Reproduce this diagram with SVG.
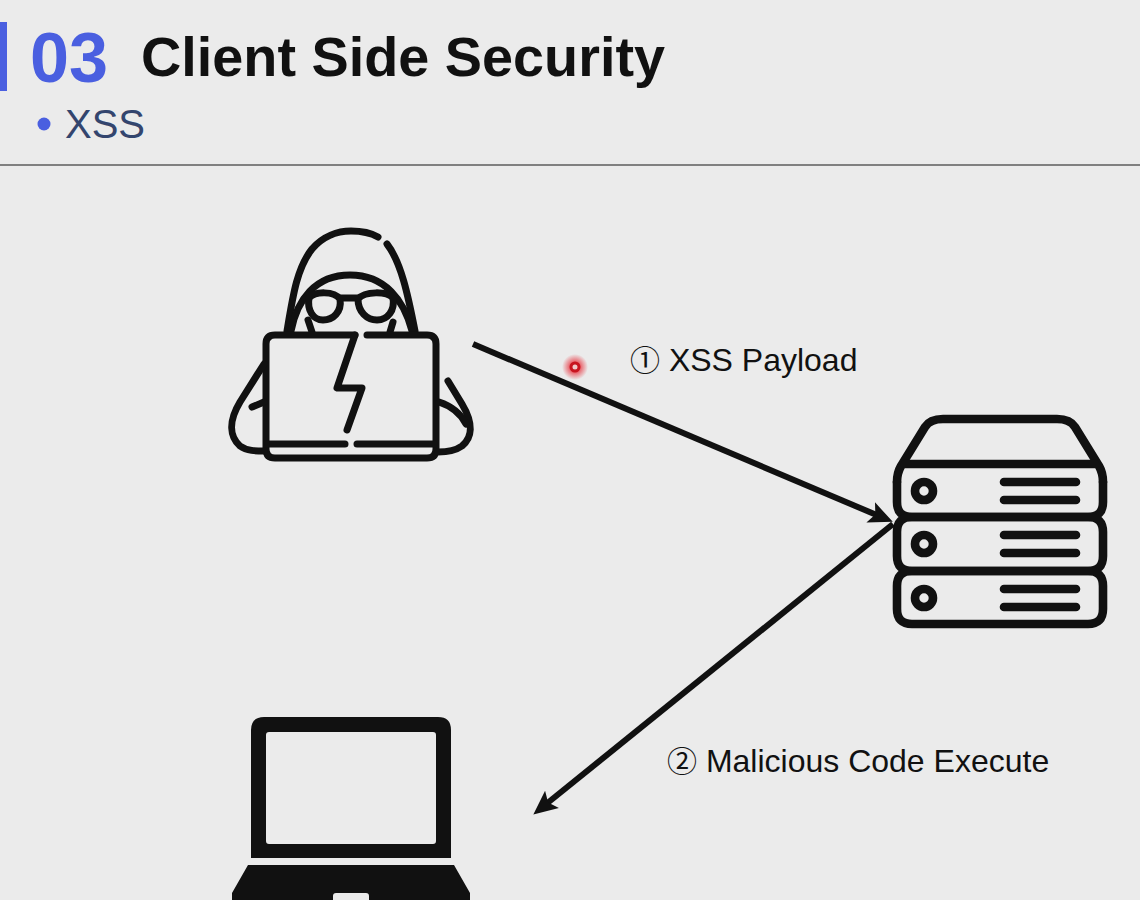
<svg xmlns="http://www.w3.org/2000/svg" width="1140" height="900" viewBox="0 0 1140 900">
<style>
text{font-family:"Liberation Sans","Noto Sans CJK SC",Arial,sans-serif}
.ic{fill:none;stroke:#111;stroke-width:7;stroke-linecap:round;stroke-linejoin:round}
.sv{fill:none;stroke:#111;stroke-width:8.6;stroke-linecap:round;stroke-linejoin:round}
.lb{font-size:32px;fill:#111}
.cn{stroke:#111;stroke-width:6;fill:none}
</style>
<defs>
<radialGradient id="glow"><stop offset="0.3" stop-color="#e8222e" stop-opacity=".8"/><stop offset="1" stop-color="#e8222e" stop-opacity="0"/></radialGradient>
<marker id="ah" markerUnits="userSpaceOnUse" markerWidth="30" markerHeight="30" refX="9" refY="12" orient="auto"><path d="M24 12 L0 1 L5 12 L0 23Z" fill="#111"/></marker>
</defs>
<rect width="1140" height="900" fill="#ebebeb"/>
<g id="header">
<rect x="0" y="22" width="7" height="69" fill="#4a5fe0"/>
<text x="30" y="82" font-size="70" font-weight="700" fill="#4a5fe0" textLength="78" lengthAdjust="spacingAndGlyphs">03</text>
<text x="141" y="76" font-size="56" font-weight="700" fill="#111" textLength="524" lengthAdjust="spacingAndGlyphs">Client Side Security</text>
<circle cx="44" cy="124" r="6.5" fill="#4a5fe0"/>
<text x="65" y="138" font-size="40" fill="#33456e">XSS</text>
<rect x="0" y="164" width="1140" height="2" fill="#808080"/>
</g>
<g id="attacker" class="ic">
<path d="M287 331C293 295 297 268 312 249C323 236 338 231 351 231C362 231 371 233 378 237"/>
<path d="M387 244C401 262 408 295 415 331"/>
<path d="M291 331C297 300 315 275 350 275C385 275 404 300 412 331"/>
<path d="M308 320L312 332M393 322L390 332"/>
<path d="M309 298C315 291 334 291 340 299C342 312 333 320 323 320C313 320 307 310 309 298Z"/>
<path d="M393 298C387 291 365 291 358 299C358 312 367 320 377 320C388 320 395 310 393 298Z"/>
<path d="M340 298H358"/>
<path d="M355 335H275Q266 335 266 344V449Q266 458 275 458H427Q436 458 436 449V344Q436 335 427 335H367"/>
<path d="M355 335L337 388H362L347 430"/>
<path d="M268 444H345M357 444H434"/>
<path d="M264 364L240 402C228 422 230 437 240 446C247 451 256 451 264 451"/>
<path d="M252 407L264 402"/>
<path d="M448 381L462 404C474 424 472 438 462 446C455 451 446 452 438 452"/>
<path d="M439 402C451 406 461 414 466 424"/>
</g>
<g id="server" class="sv">
<path d="M897 482Q897 473 901 466L925 427Q930 419 943 419H1057Q1070 419 1075 427L1099 466Q1103 473 1103 482"/>
<path d="M897 482V502Q897 517 912 517H1088Q1103 517 1103 502V482M905 464H1095"/>
<path d="M912 517H1088Q1103 517 1103 532V556Q1103 571 1088 571H912Q897 571 897 556V532Q897 517 912 517Z"/>
<path d="M912 571H1088Q1103 571 1103 586V609Q1103 624 1088 624H912Q897 624 897 609V586Q897 571 912 571Z"/>
<circle cx="924" cy="491" r="9"/><circle cx="924" cy="544" r="9"/><circle cx="924" cy="598" r="9"/>
<path d="M1004 482H1076M1004 500H1076M1004 535H1076M1004 553H1076M1004 589H1076M1004 607H1076"/>
</g>
<g id="client">
<path fill-rule="evenodd" fill="#111" d="M251 858V730Q251 717 264 717H438Q451 717 451 730V858ZM269 732Q266 732 266 735V841Q266 844 269 844H433Q436 844 436 841V735Q436 732 433 732Z"/>
<path fill="#111" d="M248 865H454L470 893V900H369V896Q369 893 366 893H336Q333 893 333 896V900H232V893Z"/>
</g>
<g id="connectors">
<line class="cn" x1="473" y1="344" x2="879" y2="516" marker-end="url(#ah)"/>
<line class="cn" x1="893" y1="524" x2="545" y2="805" marker-end="url(#ah)"/>
</g>
<g id="labels">
<text class="lb" x="630" y="371"><tspan font-size="30">①</tspan> XSS Payload</text>
<text class="lb" x="667" y="772"><tspan font-size="30">②</tspan> Malicious Code Execute</text>
</g>
<g id="pointer">
<circle cx="575" cy="367" r="13" fill="url(#glow)"/>
<circle cx="575" cy="367" r="4" fill="#f0c8c8" stroke="#c8141f" stroke-width="3"/>
</g>
</svg>
